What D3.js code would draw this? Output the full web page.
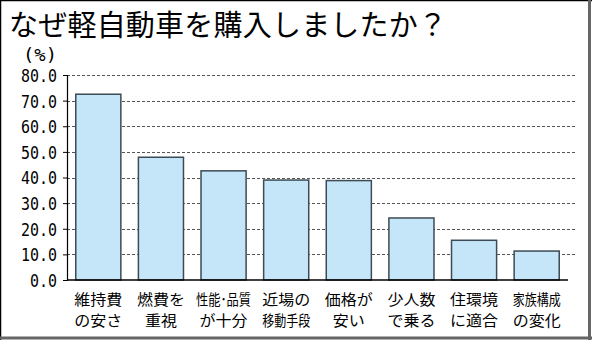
<!DOCTYPE html>
<html><head><meta charset="utf-8">
<script src="https://cdn.jsdelivr.net/npm/d3@7"></script>
<style>body{margin:0;background:#fff}svg{display:block}</style>
</head><body>
<script>
const title = "なぜ軽自動車を購入しましたか？";
const categories = [["維持費","の安さ"],["燃費を","重視"],["性能･品質","が十分"],["近場の","移動手段"],["価格が","安い"],["少人数","で乗る"],["住環境","に適合"],["家族構成","の変化"]];
const values = [72.5, 47.9, 42.6, 39.0, 38.8, 24.2, 15.5, 11.3];
const yTicks = [0,10,20,30,40,50,60,70,80];
const unitLabel = "(%)";

const W = 592, H = 340;
const svg = d3.select("body").append("svg").attr("width", W).attr("height", H);
svg.append("rect").attr("x",0).attr("y",0).attr("width",W).attr("height",H).attr("fill","#fff");
svg.append("line").attr("x1",0.5).attr("x2",0.5).attr("y1",0).attr("y2",H).attr("stroke","#000").attr("stroke-width",1.5);
svg.append("line").attr("x1",0).attr("x2",W).attr("y1",0.5).attr("y2",0.5).attr("stroke","#000").attr("stroke-width",1.5);
svg.append("line").attr("x1",589.5).attr("x2",589.5).attr("y1",0).attr("y2",H).attr("stroke","#666").attr("stroke-width",3);
svg.append("line").attr("x1",0).attr("x2",W).attr("y1",338).attr("y2",338).attr("stroke","#666").attr("stroke-width",3);

svg.append("text").attr("x",9).attr("y",36).text(title)
  .attr("font-family","'Noto Sans CJK JP'").attr("font-size",29).attr("fill","#000")
  .attr("textLength",438).attr("lengthAdjust","spacing");

const x0 = 67, x1 = 568, yTop = 75, yBot = 280;
const x = d3.scaleBand().domain(d3.range(categories.length)).range([x0, x1]).paddingInner(0.28).paddingOuter(0.14);
const y = d3.scaleLinear().domain([0, 80]).range([yBot, yTop]);

svg.append("g").selectAll("line").data(yTicks.filter(d=>d>0)).join("line")
  .attr("x1", x0).attr("x2", 577).attr("y1", d=>Math.round(y(d))+0.5).attr("y2", d=>Math.round(y(d))+0.5)
  .attr("stroke","#555").attr("stroke-width",1.2).attr("stroke-dasharray","3,2");

svg.append("g").selectAll("rect").data(values).join("rect")
  .attr("x",(d,i)=>x(i)).attr("width",x.bandwidth())
  .attr("y",d=>y(d)).attr("height",d=>yBot-y(d))
  .attr("fill","#c5e6f9").attr("stroke","#3d4b55").attr("stroke-width",1.5);

const fmt = d3.format(".1f");
const yAxis = d3.axisLeft(y).tickValues(yTicks).tickFormat(fmt).tickSize(4).tickPadding(6);
const gy = svg.append("g").attr("transform",`translate(${x0},0)`).call(yAxis);
gy.select(".domain").attr("stroke","#000").attr("stroke-width",1.2);
gy.selectAll(".tick line").attr("stroke","#000");
gy.selectAll(".tick text").attr("font-family","'DejaVu Sans Mono'").attr("font-size",18).attr("fill","#000")
  .attr("dy","0.36em").attr("textLength",d=>fmt(d).length*9).attr("lengthAdjust","spacingAndGlyphs");

svg.append("line").attr("x1",x0).attr("x2",x1).attr("y1",yBot).attr("y2",yBot).attr("stroke","#000").attr("stroke-width",1.5);

svg.append("text").attr("x",23).attr("y",61).text(unitLabel)
  .attr("font-family","'DejaVu Sans Mono'").attr("font-size",18).attr("fill","#000")
  .attr("textLength",34).attr("lengthAdjust","spacingAndGlyphs");

const lg = svg.append("g");
categories.forEach((d,i)=>{
  d.forEach((s,k)=>{
    const len = s.length >= 5 ? 55 : s.length === 4 ? 48 : s.length * 16;
    lg.append("text").attr("text-anchor","middle")
      .attr("font-family","'Noto Sans CJK JP'").attr("font-size",14.5).attr("fill","#000")
      .attr("x", x(i)+x.bandwidth()/2).attr("y", 305 + k*21).text(s)
      .attr("textLength", len).attr("lengthAdjust","spacingAndGlyphs");
  });
});
</script>
</body></html>
